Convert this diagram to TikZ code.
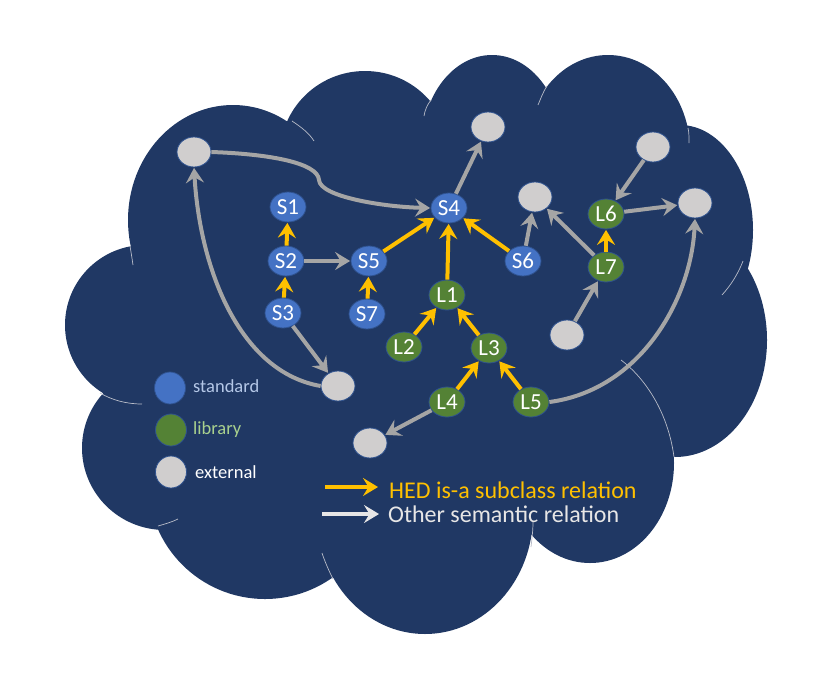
\documentclass[tikz,border=0pt]{standalone}
\usepackage{fontspec}
\setmainfont{Carlito}
\usetikzlibrary{arrows.meta,shapes.geometric}
\definecolor{cloudc}{HTML}{203864}
\definecolor{stdblue}{HTML}{4472C4}
\definecolor{libgreen}{HTML}{548235}
\definecolor{extgray}{HTML}{D0CECE}
\definecolor{isac}{HTML}{FFC000}
\definecolor{relc}{HTML}{A5A5A5}
\definecolor{rimc}{HTML}{2F528F}
\definecolor{arcc}{HTML}{B8BCC8}
\definecolor{stdtxt}{HTML}{B4C7E7}
\definecolor{libtxt}{HTML}{A9D18E}
\definecolor{othtxt}{HTML}{E7E6E6}
\begin{document}
\begin{tikzpicture}[x=1pt,y=-1pt,
  bub/.style={shape=ellipse,minimum width=36pt,minimum height=30pt,inner sep=0pt,
    draw=rimc,line width=0.8pt,text=white,font=\fontsize{23}{23}\selectfont},
  stdn/.style={bub,fill=stdblue},
  libn/.style={bub,fill=libgreen},
  extn/.style={bub,fill=extgray,minimum width=34pt,minimum height=30pt},
  legn/.style={bub,minimum width=31pt,minimum height=32pt},
  legt/.style={anchor=west,font=\fontsize{18.5}{18.5}\selectfont,inner sep=0pt},
  bigt/.style={anchor=west,font=\fontsize{24}{24}\selectfont,inner sep=0pt},
  tip/.style={-{Stealth[length=15pt,width=18pt,inset=5.5pt]}},
  isa/.style={draw=isac,line width=4pt,tip,shorten >=0.5pt},
  rel/.style={draw=relc,line width=4pt,tip,shorten >=0.5pt},
  innerarc/.style={draw=arcc,line width=0.7pt}]
\useasboundingbox (0,0) rectangle (816,672);
% cloud
\begin{scope}[fill=cloudc]
\fill (233,220) ellipse [x radius=105,y radius=115];
\fill (365,155) ellipse [x radius=85,y radius=84];
\fill (492,145) ellipse [x radius=70,y radius=90];
\fill (608,150) ellipse [x radius=82,y radius=95];
\fill (680,230) ellipse [x radius=73,y radius=105];
\fill (675,340) ellipse [x radius=92,y radius=117];
\fill (590,463) ellipse [x radius=84,y radius=100];
\fill (425,515) ellipse [x radius=108,y radius=119];
\fill (265,482) ellipse [x radius=117,y radius=117];
\fill (165,448) ellipse [x radius=83,y radius=82];
\fill (145,325) ellipse [x radius=80,y radius=80];
\fill (233,220)--(365,155)--(492,145)--(608,150)--(680,230)--(675,340)--(590,463)--(425,515)--(265,482)--(165,448)--(145,325)--cycle;
\end{scope}
% inner arcs of the cloud
\draw[innerarc] (292,121) .. controls (301,127) and (309,133) .. (314,141);
\draw[innerarc] (424,116) .. controls (425,110) and (427,105) .. (431,100);
\draw[innerarc] (538,105) .. controls (541,98) and (543,92) .. (547,86);
\draw[innerarc] (688,128) .. controls (689,132) and (689,137) .. (689,143);
\draw[innerarc] (722,295) .. controls (731,285) and (738,274) .. (743,261);
\draw[innerarc] (130,246) .. controls (131,252) and (132,258) .. (133,265);
\draw[innerarc] (100,393) .. controls (112,400) and (126,404) .. (142,404);
\draw[innerarc] (158,526) .. controls (165,524) and (172,522) .. (178,519);
\draw[innerarc] (322,553) .. controls (325,562) and (329,571) .. (333,579);
\draw[innerarc] (533,522) .. controls (533,530) and (532,538) .. (531,547);
\draw[innerarc] (621,360) .. controls (645,378) and (668,412) .. (674,457);
% nodes
\node[extn] (eA) at (194,152) {};
\node[stdn] (s1) at (288,207) {S1};
\node[stdn] (s2) at (286,261) {S2};
\node[stdn] (s3) at (283,313) {S3};
\node[stdn] (s5) at (369,261) {S5};
\node[stdn] (s7) at (367,314) {S7};
\node[stdn] (s4) at (449,208) {S4};
\node[extn] (eT) at (488,127) {};
\node[stdn] (s6) at (523,261) {S6};
\node[extn] (eS6) at (535,197) {};
\node[libn] (l1) at (447,295) {L1};
\node[libn] (l2) at (404,347) {L2};
\node[libn] (l3) at (489,348) {L3};
\node[libn] (l4) at (447,402) {L4};
\node[libn] (l5) at (531,402) {L5};
\node[extn] (eS3) at (338,386) {};
\node[extn] (eB) at (370,443) {};
\node[extn] (eTR) at (653,147) {};
\node[libn] (l6) at (606,214) {L6};
\node[extn] (eR) at (695,203) {};
\node[libn] (l7) at (606,267) {L7};
\node[extn] (eBR) at (567,335) {};
% is-a edges
\draw[isa] (s2) -- (s1);
\draw[isa] (s3) -- (s2);
\draw[isa] (s7) -- (s5);
\draw[isa] (s5) -- (s4);
\draw[isa] (l1) -- (s4);
\draw[isa] (s6) -- (s4);
\draw[isa] (l2) -- (l1);
\draw[isa] (l3) -- (l1);
\draw[isa] (l4) -- (l3);
\draw[isa] (l5) -- (l3);
\draw[isa] (l7) -- (l6);
% other relations
\draw[rel] (s2) -- (s5);
\draw[rel] (s4) -- (eT);
\draw[rel] (s6) -- (eS6);
\draw[rel] (l7) -- (eS6);
\draw[rel] (eTR) -- (l6);
\draw[rel] (l6) -- (eR);
\draw[rel] (eBR) -- (l7);
\draw[rel] (l4) -- (eB);
\draw[rel] (s3) -- (eS3);
\draw[rel] (eA.east) .. controls (270,154) and (318,163) .. (319,180) .. controls (320,197) and (385,207) .. (s4.west);
\draw[rel] (eS3.west) .. controls (240,372) and (200,270) .. (eA.south);
\draw[rel] (l5.east) .. controls (640,390) and (691,300) .. (eR.south);
% legend
\node[legn,fill=stdblue] (legS) at (170,388) {};
\node[legn,fill=libgreen] (legL) at (171,430) {};
\node[legn,fill=extgray] (legE) at (171,472) {};
\node[legt,text=stdtxt] (legSt) at (193,386) {standard};
\node[legt,text=libtxt] (legLt) at (193,430) {library};
\node[legt,text=white] (legEt) at (195,472) {external};
\coordinate (ya) at (325,487);
\coordinate (yb) at (378,487);
\coordinate (ga) at (322,514);
\coordinate (gb) at (379,514);
\draw[isa,shorten >=0pt] (ya) -- (yb);
\draw[draw=othtxt,line width=4pt,tip] (ga) -- (gb);
\node[bigt,text=isac] (isaT) at (389,490) {HED is-a subclass relation};
\node[bigt,text=othtxt] (relT) at (388,514) {Other semantic relation};
\end{tikzpicture}
\end{document}
